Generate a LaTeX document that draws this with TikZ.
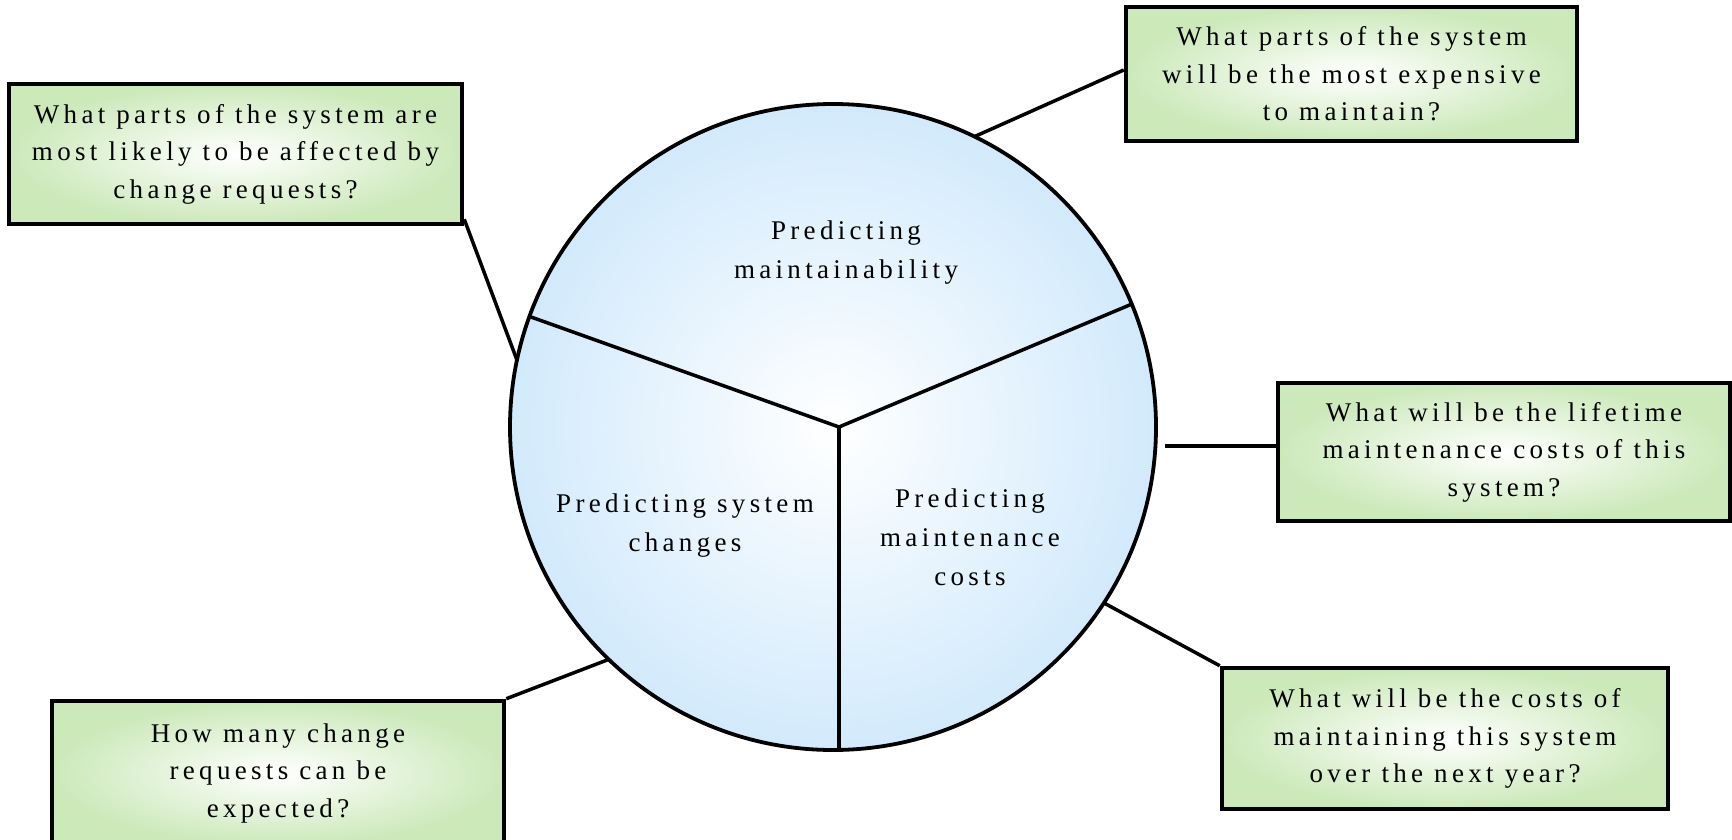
\documentclass[tikz,border=0pt]{standalone}
\usepackage{fontspec}
\setmainfont{Liberation Serif}[LetterSpace=16]
\definecolor{boxgreen}{RGB}{204,233,186}
\definecolor{discblue}{RGB}{210,234,252}
\begin{document}
\begin{tikzpicture}[x=1pt,y=-1pt,
  qbox/.style={draw=black, line width=4.5pt, shade, inner color=white, outer color=boxgreen,
    minimum width=#1, align=center, font=\fontsize{27}{37.5}\selectfont, inner sep=0pt},
  qbox/.default=452,
  label/.style={align=center, font=\fontsize{27}{39}\selectfont},
  link/.style={line width=3.5pt, black}]
\useasboundingbox (0,0) rectangle (1732,840);

% central disc with its three sectors
\node[circle, minimum size=646, inner sep=0pt, shade, inner color=white, outer color=discblue] (circ) at (833,427) {};
\coordinate (hub) at (839,427);
\coordinate (s1) at (531,317);
\coordinate (s2) at (1132,304);
\coordinate (s3) at (839,751);
\draw[link] (hub) -- (s1);
\draw[link] (hub) -- (s2);
\draw[link] (hub) -- (s3);
\draw[line width=3.8pt] (circ.center) circle (323);

\node[label] (lmaint) at (846,253) {Predicting\\maintainability};
\node[label] (lchange) at (685,526) {Predicting system\\changes};
\node[label] (lcost) at (970,537) {Predicting\\maintenance\\costs};

% question boxes
\node[qbox=453, minimum height=140] (q1) at (235.5,154) {What parts of the system are\\most likely to be affected by\\change requests?};
\node[qbox=451, minimum height=134] (q2) at (1351.5,74) {What parts of the system\\will be the most expensive\\to maintain?};
\node[qbox=452, minimum height=138] (q3) at (1504,452) {What will be the lifetime\\maintenance costs of this\\system?};
\node[qbox=446, minimum height=141] (q4) at (1445,738.5) {What will be the costs of\\maintaining this system\\over the next year?};
\node[qbox=452, minimum height=144] (q5) at (278,773) {How many change\\requests can be\\expected?};

% connectors from the disc to the boxes
\coordinate (c3) at (1165,446);
\draw[link] ([yshift=7]q1.south east) -- (circ.168);
\draw[link] (circ.64) -- ([yshift=4]q2.west);
\draw[link] (c3) -- (q3.west |- c3);
\draw[link] (circ.-33) -- (q4.north west);
\draw[link] (circ.226) -- (q5.north east);
\end{tikzpicture}
\end{document}
